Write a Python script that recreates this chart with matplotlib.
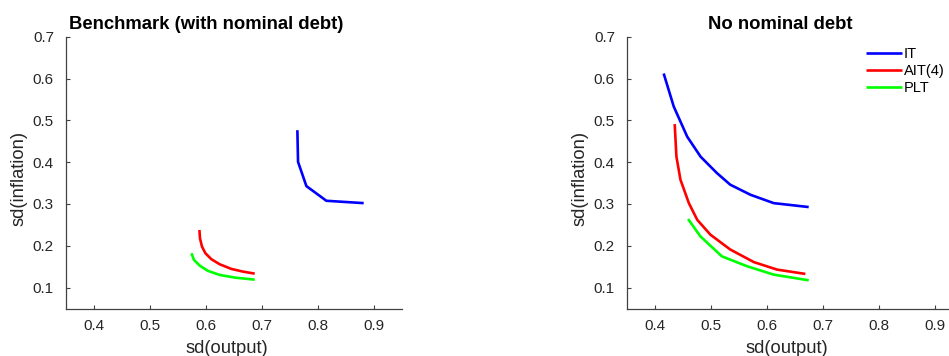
import matplotlib
matplotlib.use("Agg")
import matplotlib.pyplot as plt

plt.rcParams['font.family'] = ['Liberation Sans', 'DejaVu Sans']

# Benchmark (with nominal debt)
it_x_b = [0.7637, 0.7649, 0.7798, 0.8155, 0.8821]
it_y_b = [0.4764, 0.4007, 0.3427, 0.3076, 0.3020]
ait_x_b = [0.5888, 0.5898, 0.5934, 0.5995, 0.6102, 0.6250, 0.6459, 0.6666, 0.6875]
ait_y_b = [0.2377, 0.2179, 0.1979, 0.1821, 0.1678, 0.1558, 0.1446, 0.1382, 0.1334]
plt_x_b = [0.5745, 0.5791, 0.5893, 0.6041, 0.6250, 0.6518, 0.6875]
plt_y_b = [0.1821, 0.1661, 0.1525, 0.1399, 0.1303, 0.1239, 0.1190]

# No nominal debt
it_x_n = [0.416, 0.434, 0.458, 0.482, 0.511, 0.535, 0.571, 0.6125, 0.675]
it_y_n = [0.612, 0.533, 0.461, 0.413, 0.374, 0.346, 0.322, 0.302, 0.2926]
ait_x_n = [0.4357, 0.4388, 0.446, 0.461, 0.476, 0.4995, 0.535, 0.577, 0.6186, 0.669]
ait_y_n = [0.491, 0.413, 0.358, 0.302, 0.262, 0.2265, 0.191, 0.161, 0.143, 0.1327]
plt_x_n = [0.4596, 0.4816, 0.52, 0.565, 0.6125, 0.675]
plt_y_n = [0.264, 0.2225, 0.1747, 0.151, 0.131, 0.1174]

series_labels = ['IT', 'AIT(4)', 'PLT']
series_colors = ['#0000ff', '#ff0000', '#00ff00']
x_ticks = [0.4, 0.5, 0.6, 0.7, 0.8, 0.9]
y_ticks = [0.1, 0.2, 0.3, 0.4, 0.5, 0.6, 0.7]

W, H = 949, 356
fig = plt.figure(figsize=(W / 100, H / 100), dpi=100)

txt = '#262626'
axcol = '#404040'


def make_ax(left_px, title, title_x, xlab_x, data):
    ax = fig.add_axes([left_px / W, (H - 308.5) / H, 336 / W, (308.5 - 36.7) / H])
    for (xs, ys), c, lab in zip(data, series_colors, series_labels):
        ax.plot(xs, ys, color=c, lw=1.9, label=lab, solid_capstyle='butt',
                solid_joinstyle='round')
    ax.set_xlim(0.35, 0.95)
    ax.set_ylim(0.05, 0.7)
    ax.set_xticks(x_ticks)
    ax.set_yticks(y_ticks)
    ax.set_xticklabels([f'{v:.1f}' for v in x_ticks])
    ax.set_yticklabels([f'{v:.1f}' for v in y_ticks])
    for s in ['top', 'right']:
        ax.spines[s].set_visible(False)
    for s in ['left', 'bottom']:
        ax.spines[s].set_color(axcol)
        ax.spines[s].set_linewidth(0.9)
    ax.tick_params(direction='in', length=3, width=0.8, color=axcol,
                   labelsize=11, labelcolor=txt)
    ax.tick_params(axis='x', pad=7.5)
    ax.tick_params(axis='y', pad=8.5)
    t = ax.set_title(title, fontsize=13.3, fontweight='bold', color='black', pad=5.5)
    t.set_x(title_x)
    ax.set_xlabel('sd(output)', fontsize=13.2, color=txt)
    ax.set_ylabel('sd(inflation)', fontsize=13.2, color=txt)
    ax.xaxis.set_label_coords(xlab_x, -0.115)
    ax.yaxis.set_label_coords(-0.114, 0.477)
    return ax


ax1 = make_ax(65.7, 'Benchmark (with nominal debt)', 0.4182, 0.4786,
              [(it_x_b, it_y_b), (ait_x_b, ait_y_b), (plt_x_b, plt_y_b)])
ax2 = make_ax(626.7, 'No nominal debt', 0.456, 0.476,
              [(it_x_n, it_y_n), (ait_x_n, ait_y_n), (plt_x_n, plt_y_n)])

ax2.legend(loc='upper left', bbox_to_anchor=(866 / W, 1 - 47 / H),
           bbox_transform=fig.transFigure, frameon=False, fontsize=10.5,
           handlelength=2.47, handletextpad=0.1, labelspacing=0.21,
           borderpad=0, borderaxespad=0)

fig.savefig('out.png', dpi=100)
